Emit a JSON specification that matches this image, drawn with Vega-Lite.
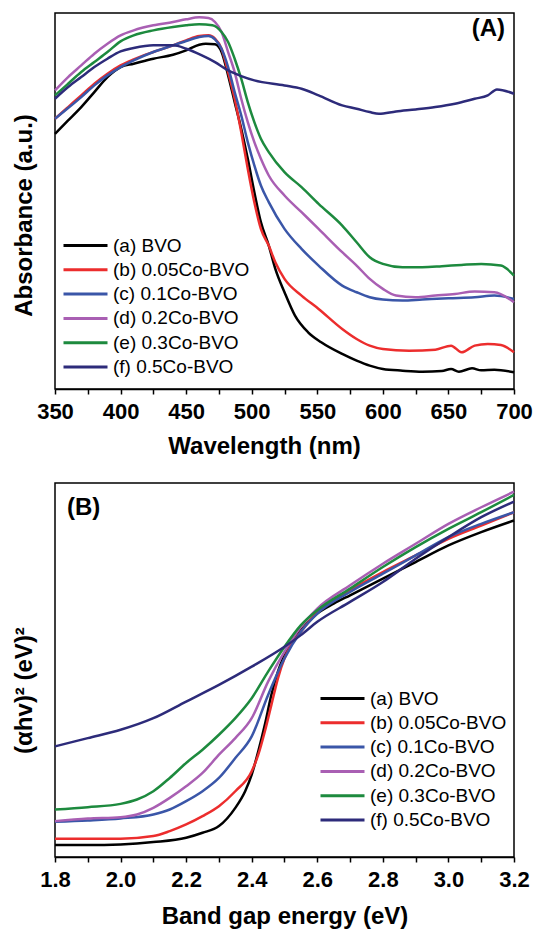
{
 "$schema": "https://vega.github.io/schema/vega-lite/v6.json",
 "background": "white",
 "padding": {"left": 11, "top": 11, "right": 0, "bottom": 0},
 "spacing": 23,
 "config": {
  "view": {"stroke": "black", "strokeWidth": 1.5},
  "font": "Liberation Sans",
  "axis": {"domainColor": "black", "domainWidth": 1.5, "tickColor": "black", "tickWidth": 1.5, "tickSize": 5, "labelFont": "Liberation Sans", "labelFontSize": 22, "labelFontWeight": "bold", "labelColor": "black", "labelPadding": 7, "titleFont": "Liberation Sans", "titleFontSize": 24, "titleFontWeight": "bold", "titleColor": "black", "grid": false, "labelFlush": false, "labelOverlap": false},
  "legend": {"orient": "none", "title": null, "symbolType": "M-3,0L1,0", "symbolSize": 484, "symbolStrokeWidth": 3, "labelFont": "Liberation Sans", "labelFontSize": 19, "labelColor": "black", "labelOffset": 4, "rowPadding": 1.3, "padding": 0, "symbolOpacity": 1},
  "title": {"font": "Liberation Sans", "fontSize": 24, "fontWeight": "bold", "color": "black", "frame": "group"}
 },
 "datasets": {
  "absorb": [
   {"s":"(a) BVO","wl":350,"a":0.765},{"s":"(a) BVO","wl":360,"a":0.805},{"s":"(a) BVO","wl":370,"a":0.845},{"s":"(a) BVO","wl":380,"a":0.89},{"s":"(a) BVO","wl":390,"a":0.935},{"s":"(a) BVO","wl":400,"a":0.965},{"s":"(a) BVO","wl":410,"a":0.975},{"s":"(a) BVO","wl":425,"a":0.99},{"s":"(a) BVO","wl":440,"a":1.002},{"s":"(a) BVO","wl":450,"a":1.015},{"s":"(a) BVO","wl":460,"a":1.032},{"s":"(a) BVO","wl":465,"a":1.035},{"s":"(a) BVO","wl":472,"a":1.033},{"s":"(a) BVO","wl":477,"a":1.01},{"s":"(a) BVO","wl":482,"a":0.94},{"s":"(a) BVO","wl":487,"a":0.86},{"s":"(a) BVO","wl":492,"a":0.78},{"s":"(a) BVO","wl":497,"a":0.69},{"s":"(a) BVO","wl":502,"a":0.59},{"s":"(a) BVO","wl":507,"a":0.5},{"s":"(a) BVO","wl":513,"a":0.43},{"s":"(a) BVO","wl":518,"a":0.36},{"s":"(a) BVO","wl":525,"a":0.29},{"s":"(a) BVO","wl":533,"a":0.22},{"s":"(a) BVO","wl":543,"a":0.17},{"s":"(a) BVO","wl":553,"a":0.14},{"s":"(a) BVO","wl":569,"a":0.105},{"s":"(a) BVO","wl":580,"a":0.085},{"s":"(a) BVO","wl":590,"a":0.07},{"s":"(a) BVO","wl":600,"a":0.06},{"s":"(a) BVO","wl":615,"a":0.055},{"s":"(a) BVO","wl":630,"a":0.052},{"s":"(a) BVO","wl":645,"a":0.054},{"s":"(a) BVO","wl":652,"a":0.06},{"s":"(a) BVO","wl":658,"a":0.052},{"s":"(a) BVO","wl":668,"a":0.062},{"s":"(a) BVO","wl":675,"a":0.056},{"s":"(a) BVO","wl":685,"a":0.058},{"s":"(a) BVO","wl":700,"a":0.05},
   {"s":"(b) 0.05Co-BVO","wl":350,"a":0.81},{"s":"(b) 0.05Co-BVO","wl":360,"a":0.845},{"s":"(b) 0.05Co-BVO","wl":370,"a":0.88},{"s":"(b) 0.05Co-BVO","wl":380,"a":0.915},{"s":"(b) 0.05Co-BVO","wl":390,"a":0.945},{"s":"(b) 0.05Co-BVO","wl":400,"a":0.97},{"s":"(b) 0.05Co-BVO","wl":410,"a":0.988},{"s":"(b) 0.05Co-BVO","wl":425,"a":1.01},{"s":"(b) 0.05Co-BVO","wl":440,"a":1.03},{"s":"(b) 0.05Co-BVO","wl":450,"a":1.045},{"s":"(b) 0.05Co-BVO","wl":460,"a":1.058},{"s":"(b) 0.05Co-BVO","wl":467,"a":1.06},{"s":"(b) 0.05Co-BVO","wl":472,"a":1.05},{"s":"(b) 0.05Co-BVO","wl":477,"a":1.02},{"s":"(b) 0.05Co-BVO","wl":482,"a":0.95},{"s":"(b) 0.05Co-BVO","wl":487,"a":0.87},{"s":"(b) 0.05Co-BVO","wl":492,"a":0.77},{"s":"(b) 0.05Co-BVO","wl":497,"a":0.66},{"s":"(b) 0.05Co-BVO","wl":502,"a":0.56},{"s":"(b) 0.05Co-BVO","wl":507,"a":0.48},{"s":"(b) 0.05Co-BVO","wl":513,"a":0.43},{"s":"(b) 0.05Co-BVO","wl":518,"a":0.38},{"s":"(b) 0.05Co-BVO","wl":525,"a":0.33},{"s":"(b) 0.05Co-BVO","wl":538,"a":0.28},{"s":"(b) 0.05Co-BVO","wl":551,"a":0.24},{"s":"(b) 0.05Co-BVO","wl":569,"a":0.18},{"s":"(b) 0.05Co-BVO","wl":580,"a":0.15},{"s":"(b) 0.05Co-BVO","wl":590,"a":0.13},{"s":"(b) 0.05Co-BVO","wl":600,"a":0.12},{"s":"(b) 0.05Co-BVO","wl":620,"a":0.115},{"s":"(b) 0.05Co-BVO","wl":640,"a":0.118},{"s":"(b) 0.05Co-BVO","wl":652,"a":0.13},{"s":"(b) 0.05Co-BVO","wl":660,"a":0.11},{"s":"(b) 0.05Co-BVO","wl":670,"a":0.13},{"s":"(b) 0.05Co-BVO","wl":680,"a":0.135},{"s":"(b) 0.05Co-BVO","wl":690,"a":0.132},{"s":"(b) 0.05Co-BVO","wl":700,"a":0.11},
   {"s":"(c) 0.1Co-BVO","wl":350,"a":0.81},{"s":"(c) 0.1Co-BVO","wl":360,"a":0.842},{"s":"(c) 0.1Co-BVO","wl":370,"a":0.875},{"s":"(c) 0.1Co-BVO","wl":380,"a":0.91},{"s":"(c) 0.1Co-BVO","wl":390,"a":0.94},{"s":"(c) 0.1Co-BVO","wl":400,"a":0.965},{"s":"(c) 0.1Co-BVO","wl":410,"a":0.985},{"s":"(c) 0.1Co-BVO","wl":425,"a":1.01},{"s":"(c) 0.1Co-BVO","wl":440,"a":1.03},{"s":"(c) 0.1Co-BVO","wl":450,"a":1.043},{"s":"(c) 0.1Co-BVO","wl":460,"a":1.055},{"s":"(c) 0.1Co-BVO","wl":467,"a":1.058},{"s":"(c) 0.1Co-BVO","wl":472,"a":1.048},{"s":"(c) 0.1Co-BVO","wl":477,"a":1.02},{"s":"(c) 0.1Co-BVO","wl":482,"a":0.965},{"s":"(c) 0.1Co-BVO","wl":487,"a":0.89},{"s":"(c) 0.1Co-BVO","wl":492,"a":0.82},{"s":"(c) 0.1Co-BVO","wl":497,"a":0.74},{"s":"(c) 0.1Co-BVO","wl":502,"a":0.67},{"s":"(c) 0.1Co-BVO","wl":507,"a":0.61},{"s":"(c) 0.1Co-BVO","wl":513,"a":0.56},{"s":"(c) 0.1Co-BVO","wl":525,"a":0.48},{"s":"(c) 0.1Co-BVO","wl":538,"a":0.42},{"s":"(c) 0.1Co-BVO","wl":551,"a":0.37},{"s":"(c) 0.1Co-BVO","wl":569,"a":0.31},{"s":"(c) 0.1Co-BVO","wl":580,"a":0.29},{"s":"(c) 0.1Co-BVO","wl":590,"a":0.275},{"s":"(c) 0.1Co-BVO","wl":600,"a":0.268},{"s":"(c) 0.1Co-BVO","wl":615,"a":0.265},{"s":"(c) 0.1Co-BVO","wl":630,"a":0.268},{"s":"(c) 0.1Co-BVO","wl":650,"a":0.272},{"s":"(c) 0.1Co-BVO","wl":670,"a":0.275},{"s":"(c) 0.1Co-BVO","wl":685,"a":0.28},{"s":"(c) 0.1Co-BVO","wl":700,"a":0.27},
   {"s":"(d) 0.2Co-BVO","wl":350,"a":0.895},{"s":"(d) 0.2Co-BVO","wl":360,"a":0.935},{"s":"(d) 0.2Co-BVO","wl":370,"a":0.97},{"s":"(d) 0.2Co-BVO","wl":380,"a":1.005},{"s":"(d) 0.2Co-BVO","wl":390,"a":1.035},{"s":"(d) 0.2Co-BVO","wl":400,"a":1.06},{"s":"(d) 0.2Co-BVO","wl":410,"a":1.075},{"s":"(d) 0.2Co-BVO","wl":425,"a":1.09},{"s":"(d) 0.2Co-BVO","wl":440,"a":1.1},{"s":"(d) 0.2Co-BVO","wl":450,"a":1.108},{"s":"(d) 0.2Co-BVO","wl":460,"a":1.114},{"s":"(d) 0.2Co-BVO","wl":467,"a":1.112},{"s":"(d) 0.2Co-BVO","wl":472,"a":1.1},{"s":"(d) 0.2Co-BVO","wl":477,"a":1.07},{"s":"(d) 0.2Co-BVO","wl":482,"a":1.01},{"s":"(d) 0.2Co-BVO","wl":487,"a":0.95},{"s":"(d) 0.2Co-BVO","wl":492,"a":0.87},{"s":"(d) 0.2Co-BVO","wl":497,"a":0.8},{"s":"(d) 0.2Co-BVO","wl":502,"a":0.74},{"s":"(d) 0.2Co-BVO","wl":507,"a":0.69},{"s":"(d) 0.2Co-BVO","wl":513,"a":0.64},{"s":"(d) 0.2Co-BVO","wl":525,"a":0.58},{"s":"(d) 0.2Co-BVO","wl":538,"a":0.53},{"s":"(d) 0.2Co-BVO","wl":551,"a":0.48},{"s":"(d) 0.2Co-BVO","wl":569,"a":0.41},{"s":"(d) 0.2Co-BVO","wl":580,"a":0.37},{"s":"(d) 0.2Co-BVO","wl":590,"a":0.33},{"s":"(d) 0.2Co-BVO","wl":600,"a":0.3},{"s":"(d) 0.2Co-BVO","wl":610,"a":0.28},{"s":"(d) 0.2Co-BVO","wl":625,"a":0.275},{"s":"(d) 0.2Co-BVO","wl":640,"a":0.28},{"s":"(d) 0.2Co-BVO","wl":655,"a":0.285},{"s":"(d) 0.2Co-BVO","wl":670,"a":0.292},{"s":"(d) 0.2Co-BVO","wl":685,"a":0.29},{"s":"(d) 0.2Co-BVO","wl":700,"a":0.26},
   {"s":"(e) 0.3Co-BVO","wl":350,"a":0.88},{"s":"(e) 0.3Co-BVO","wl":360,"a":0.915},{"s":"(e) 0.3Co-BVO","wl":370,"a":0.95},{"s":"(e) 0.3Co-BVO","wl":380,"a":0.98},{"s":"(e) 0.3Co-BVO","wl":390,"a":1.01},{"s":"(e) 0.3Co-BVO","wl":400,"a":1.042},{"s":"(e) 0.3Co-BVO","wl":410,"a":1.06},{"s":"(e) 0.3Co-BVO","wl":425,"a":1.075},{"s":"(e) 0.3Co-BVO","wl":440,"a":1.085},{"s":"(e) 0.3Co-BVO","wl":450,"a":1.09},{"s":"(e) 0.3Co-BVO","wl":460,"a":1.093},{"s":"(e) 0.3Co-BVO","wl":470,"a":1.09},{"s":"(e) 0.3Co-BVO","wl":477,"a":1.07},{"s":"(e) 0.3Co-BVO","wl":482,"a":1.04},{"s":"(e) 0.3Co-BVO","wl":487,"a":0.99},{"s":"(e) 0.3Co-BVO","wl":492,"a":0.93},{"s":"(e) 0.3Co-BVO","wl":497,"a":0.86},{"s":"(e) 0.3Co-BVO","wl":502,"a":0.8},{"s":"(e) 0.3Co-BVO","wl":507,"a":0.75},{"s":"(e) 0.3Co-BVO","wl":513,"a":0.71},{"s":"(e) 0.3Co-BVO","wl":525,"a":0.65},{"s":"(e) 0.3Co-BVO","wl":538,"a":0.605},{"s":"(e) 0.3Co-BVO","wl":551,"a":0.555},{"s":"(e) 0.3Co-BVO","wl":569,"a":0.49},{"s":"(e) 0.3Co-BVO","wl":580,"a":0.44},{"s":"(e) 0.3Co-BVO","wl":590,"a":0.395},{"s":"(e) 0.3Co-BVO","wl":600,"a":0.375},{"s":"(e) 0.3Co-BVO","wl":615,"a":0.365},{"s":"(e) 0.3Co-BVO","wl":630,"a":0.365},{"s":"(e) 0.3Co-BVO","wl":645,"a":0.368},{"s":"(e) 0.3Co-BVO","wl":660,"a":0.372},{"s":"(e) 0.3Co-BVO","wl":675,"a":0.375},{"s":"(e) 0.3Co-BVO","wl":690,"a":0.37},{"s":"(e) 0.3Co-BVO","wl":700,"a":0.34},
   {"s":"(f) 0.5Co-BVO","wl":350,"a":0.87},{"s":"(f) 0.5Co-BVO","wl":360,"a":0.905},{"s":"(f) 0.5Co-BVO","wl":370,"a":0.935},{"s":"(f) 0.5Co-BVO","wl":380,"a":0.965},{"s":"(f) 0.5Co-BVO","wl":390,"a":0.99},{"s":"(f) 0.5Co-BVO","wl":400,"a":1.012},{"s":"(f) 0.5Co-BVO","wl":410,"a":1.022},{"s":"(f) 0.5Co-BVO","wl":425,"a":1.03},{"s":"(f) 0.5Co-BVO","wl":440,"a":1.03},{"s":"(f) 0.5Co-BVO","wl":450,"a":1.02},{"s":"(f) 0.5Co-BVO","wl":462,"a":1.0},{"s":"(f) 0.5Co-BVO","wl":472,"a":0.98},{"s":"(f) 0.5Co-BVO","wl":482,"a":0.955},{"s":"(f) 0.5Co-BVO","wl":492,"a":0.938},{"s":"(f) 0.5Co-BVO","wl":502,"a":0.925},{"s":"(f) 0.5Co-BVO","wl":525,"a":0.91},{"s":"(f) 0.5Co-BVO","wl":538,"a":0.9},{"s":"(f) 0.5Co-BVO","wl":551,"a":0.88},{"s":"(f) 0.5Co-BVO","wl":569,"a":0.85},{"s":"(f) 0.5Co-BVO","wl":580,"a":0.84},{"s":"(f) 0.5Co-BVO","wl":590,"a":0.83},{"s":"(f) 0.5Co-BVO","wl":597,"a":0.825},{"s":"(f) 0.5Co-BVO","wl":610,"a":0.832},{"s":"(f) 0.5Co-BVO","wl":625,"a":0.838},{"s":"(f) 0.5Co-BVO","wl":640,"a":0.845},{"s":"(f) 0.5Co-BVO","wl":655,"a":0.855},{"s":"(f) 0.5Co-BVO","wl":670,"a":0.87},{"s":"(f) 0.5Co-BVO","wl":680,"a":0.88},{"s":"(f) 0.5Co-BVO","wl":687,"a":0.898},{"s":"(f) 0.5Co-BVO","wl":700,"a":0.885}
  ],
  "tauc": [
   {"s":"(a) BVO","e":1.8,"v":0.036},{"s":"(a) BVO","e":1.9,"v":0.036},{"s":"(a) BVO","e":2.0,"v":0.038},{"s":"(a) BVO","e":2.1,"v":0.045},{"s":"(a) BVO","e":2.2,"v":0.058},{"s":"(a) BVO","e":2.25,"v":0.073},{"s":"(a) BVO","e":2.3,"v":0.093},{"s":"(a) BVO","e":2.35,"v":0.148},{"s":"(a) BVO","e":2.38,"v":0.198},{"s":"(a) BVO","e":2.4,"v":0.248},{"s":"(a) BVO","e":2.42,"v":0.318},{"s":"(a) BVO","e":2.44,"v":0.398},{"s":"(a) BVO","e":2.46,"v":0.488},{"s":"(a) BVO","e":2.48,"v":0.558},{"s":"(a) BVO","e":2.5,"v":0.608},{"s":"(a) BVO","e":2.52,"v":0.648},{"s":"(a) BVO","e":2.55,"v":0.683},{"s":"(a) BVO","e":2.6,"v":0.733},{"s":"(a) BVO","e":2.65,"v":0.763},{"s":"(a) BVO","e":2.7,"v":0.788},{"s":"(a) BVO","e":2.8,"v":0.838},{"s":"(a) BVO","e":2.9,"v":0.888},{"s":"(a) BVO","e":3.0,"v":0.938},{"s":"(a) BVO","e":3.1,"v":0.978},{"s":"(a) BVO","e":3.2,"v":1.013},
   {"s":"(b) 0.05Co-BVO","e":1.8,"v":0.055},{"s":"(b) 0.05Co-BVO","e":2.0,"v":0.055},{"s":"(b) 0.05Co-BVO","e":2.1,"v":0.063},{"s":"(b) 0.05Co-BVO","e":2.15,"v":0.078},{"s":"(b) 0.05Co-BVO","e":2.2,"v":0.098},{"s":"(b) 0.05Co-BVO","e":2.25,"v":0.123},{"s":"(b) 0.05Co-BVO","e":2.3,"v":0.153},{"s":"(b) 0.05Co-BVO","e":2.35,"v":0.198},{"s":"(b) 0.05Co-BVO","e":2.4,"v":0.258},{"s":"(b) 0.05Co-BVO","e":2.42,"v":0.308},{"s":"(b) 0.05Co-BVO","e":2.44,"v":0.378},{"s":"(b) 0.05Co-BVO","e":2.46,"v":0.458},{"s":"(b) 0.05Co-BVO","e":2.48,"v":0.538},{"s":"(b) 0.05Co-BVO","e":2.5,"v":0.598},{"s":"(b) 0.05Co-BVO","e":2.52,"v":0.638},{"s":"(b) 0.05Co-BVO","e":2.55,"v":0.678},{"s":"(b) 0.05Co-BVO","e":2.6,"v":0.738},{"s":"(b) 0.05Co-BVO","e":2.7,"v":0.803},{"s":"(b) 0.05Co-BVO","e":2.8,"v":0.858},{"s":"(b) 0.05Co-BVO","e":2.9,"v":0.908},{"s":"(b) 0.05Co-BVO","e":3.0,"v":0.958},{"s":"(b) 0.05Co-BVO","e":3.1,"v":0.998},{"s":"(b) 0.05Co-BVO","e":3.2,"v":1.038},
   {"s":"(c) 0.1Co-BVO","e":1.8,"v":0.106},{"s":"(c) 0.1Co-BVO","e":1.9,"v":0.11},{"s":"(c) 0.1Co-BVO","e":2.0,"v":0.116},{"s":"(c) 0.1Co-BVO","e":2.1,"v":0.128},{"s":"(c) 0.1Co-BVO","e":2.15,"v":0.143},{"s":"(c) 0.1Co-BVO","e":2.2,"v":0.168},{"s":"(c) 0.1Co-BVO","e":2.25,"v":0.198},{"s":"(c) 0.1Co-BVO","e":2.3,"v":0.238},{"s":"(c) 0.1Co-BVO","e":2.35,"v":0.298},{"s":"(c) 0.1Co-BVO","e":2.4,"v":0.363},{"s":"(c) 0.1Co-BVO","e":2.45,"v":0.488},{"s":"(c) 0.1Co-BVO","e":2.5,"v":0.598},{"s":"(c) 0.1Co-BVO","e":2.55,"v":0.678},{"s":"(c) 0.1Co-BVO","e":2.6,"v":0.733},{"s":"(c) 0.1Co-BVO","e":2.7,"v":0.798},{"s":"(c) 0.1Co-BVO","e":2.8,"v":0.853},{"s":"(c) 0.1Co-BVO","e":2.9,"v":0.908},{"s":"(c) 0.1Co-BVO","e":3.0,"v":0.963},{"s":"(c) 0.1Co-BVO","e":3.1,"v":1.003},{"s":"(c) 0.1Co-BVO","e":3.2,"v":1.038},
   {"s":"(d) 0.2Co-BVO","e":1.8,"v":0.108},{"s":"(d) 0.2Co-BVO","e":1.9,"v":0.116},{"s":"(d) 0.2Co-BVO","e":2.0,"v":0.12},{"s":"(d) 0.2Co-BVO","e":2.05,"v":0.128},{"s":"(d) 0.2Co-BVO","e":2.1,"v":0.148},{"s":"(d) 0.2Co-BVO","e":2.15,"v":0.178},{"s":"(d) 0.2Co-BVO","e":2.2,"v":0.213},{"s":"(d) 0.2Co-BVO","e":2.25,"v":0.253},{"s":"(d) 0.2Co-BVO","e":2.3,"v":0.308},{"s":"(d) 0.2Co-BVO","e":2.35,"v":0.358},{"s":"(d) 0.2Co-BVO","e":2.4,"v":0.418},{"s":"(d) 0.2Co-BVO","e":2.45,"v":0.528},{"s":"(d) 0.2Co-BVO","e":2.5,"v":0.618},{"s":"(d) 0.2Co-BVO","e":2.55,"v":0.693},{"s":"(d) 0.2Co-BVO","e":2.6,"v":0.748},{"s":"(d) 0.2Co-BVO","e":2.7,"v":0.818},{"s":"(d) 0.2Co-BVO","e":2.8,"v":0.883},{"s":"(d) 0.2Co-BVO","e":2.9,"v":0.943},{"s":"(d) 0.2Co-BVO","e":3.0,"v":1.003},{"s":"(d) 0.2Co-BVO","e":3.1,"v":1.053},{"s":"(d) 0.2Co-BVO","e":3.2,"v":1.1},
   {"s":"(e) 0.3Co-BVO","e":1.8,"v":0.143},{"s":"(e) 0.3Co-BVO","e":1.9,"v":0.15},{"s":"(e) 0.3Co-BVO","e":2.0,"v":0.16},{"s":"(e) 0.3Co-BVO","e":2.05,"v":0.173},{"s":"(e) 0.3Co-BVO","e":2.1,"v":0.198},{"s":"(e) 0.3Co-BVO","e":2.15,"v":0.238},{"s":"(e) 0.3Co-BVO","e":2.2,"v":0.283},{"s":"(e) 0.3Co-BVO","e":2.25,"v":0.323},{"s":"(e) 0.3Co-BVO","e":2.3,"v":0.368},{"s":"(e) 0.3Co-BVO","e":2.35,"v":0.418},{"s":"(e) 0.3Co-BVO","e":2.4,"v":0.478},{"s":"(e) 0.3Co-BVO","e":2.45,"v":0.558},{"s":"(e) 0.3Co-BVO","e":2.5,"v":0.633},{"s":"(e) 0.3Co-BVO","e":2.55,"v":0.698},{"s":"(e) 0.3Co-BVO","e":2.6,"v":0.743},{"s":"(e) 0.3Co-BVO","e":2.7,"v":0.808},{"s":"(e) 0.3Co-BVO","e":2.8,"v":0.873},{"s":"(e) 0.3Co-BVO","e":2.9,"v":0.933},{"s":"(e) 0.3Co-BVO","e":3.0,"v":0.988},{"s":"(e) 0.3Co-BVO","e":3.1,"v":1.038},{"s":"(e) 0.3Co-BVO","e":3.2,"v":1.09},
   {"s":"(f) 0.5Co-BVO","e":1.8,"v":0.333},{"s":"(f) 0.5Co-BVO","e":1.9,"v":0.358},{"s":"(f) 0.5Co-BVO","e":2.0,"v":0.383},{"s":"(f) 0.5Co-BVO","e":2.1,"v":0.418},{"s":"(f) 0.5Co-BVO","e":2.2,"v":0.468},{"s":"(f) 0.5Co-BVO","e":2.3,"v":0.518},{"s":"(f) 0.5Co-BVO","e":2.4,"v":0.573},{"s":"(f) 0.5Co-BVO","e":2.5,"v":0.633},{"s":"(f) 0.5Co-BVO","e":2.55,"v":0.668},{"s":"(f) 0.5Co-BVO","e":2.6,"v":0.708},{"s":"(f) 0.5Co-BVO","e":2.7,"v":0.768},{"s":"(f) 0.5Co-BVO","e":2.8,"v":0.828},{"s":"(f) 0.5Co-BVO","e":2.9,"v":0.898},{"s":"(f) 0.5Co-BVO","e":3.0,"v":0.963},{"s":"(f) 0.5Co-BVO","e":3.1,"v":1.023},{"s":"(f) 0.5Co-BVO","e":3.2,"v":1.07}
  ]
 },
 "vconcat": [
  {
   "width": 459, "height": 376,
   "title": {"text": "(A)", "anchor": "end", "offset": -29, "dx": -9},
   "data": {"name": "absorb"},
   "mark": {"type": "line", "strokeWidth": 2.5, "interpolate": "monotone"},
   "encoding": {
    "x": {"field": "wl", "type": "quantitative", "scale": {"domain": [350, 700], "nice": false, "zero": false},
          "axis": {"values": [350,375,400,425,450,475,500,525,550,575,600,625,650,675,700], "labelExpr": "datum.value % 50 == 0 ? datum.label : ''", "title": "Wavelength (nm)", "titlePadding": 12, "titleX": 209}},
    "y": {"field": "a", "type": "quantitative", "scale": {"domain": [0, 1.127], "nice": false, "zero": false},
          "axis": {"ticks": false, "labels": false, "domain": false, "title": "Absorbance (a.u.)", "titleX": -19, "titleY": 202}},
    "color": {"field": "s", "type": "nominal",
              "scale": {"domain": ["(a) BVO","(b) 0.05Co-BVO","(c) 0.1Co-BVO","(d) 0.2Co-BVO","(e) 0.3Co-BVO","(f) 0.5Co-BVO"], "range": ["#000000","#ec2d2d","#3a56a8","#a95fb3","#1d8a3e","#2d2b7a"]},
              "legend": {"legendX": 29, "legendY": 220}}
   }
  },
  {
   "width": 459, "height": 374,
   "title": {"text": "(B)", "anchor": "start", "offset": -37, "dx": 12},
   "data": {"name": "tauc"},
   "mark": {"type": "line", "strokeWidth": 2.5, "interpolate": "monotone"},
   "encoding": {
    "x": {"field": "e", "type": "quantitative", "scale": {"domain": [1.8, 3.2], "nice": false, "zero": false},
          "axis": {"values": [1.8,1.9,2.0,2.1,2.2,2.3,2.4,2.5,2.6,2.7,2.8,2.9,3.0,3.1,3.2], "labelExpr": "round(datum.value*10) % 2 == 0 ? format(datum.value, '.1f') : ''", "title": "Band gap energy (eV)", "titlePadding": 14}},
    "y": {"field": "v", "type": "quantitative", "scale": {"domain": [0, 1.126], "nice": false, "zero": false},
          "axis": {"ticks": false, "labels": false, "domain": false, "title": "(αhv)² (eV)²", "titleX": -19, "titleY": 207}},
    "color": {"field": "s", "type": "nominal",
              "scale": {"domain": ["(a) BVO","(b) 0.05Co-BVO","(c) 0.1Co-BVO","(d) 0.2Co-BVO","(e) 0.3Co-BVO","(f) 0.5Co-BVO"], "range": ["#000000","#ec2d2d","#3a56a8","#a95fb3","#1d8a3e","#2d2b7a"]},
              "legend": {"legendX": 286, "legendY": 203}}
   }
  }
 ],
 "resolve": {"scale": {"color": "independent"}, "legend": {"color": "independent"}}
}
